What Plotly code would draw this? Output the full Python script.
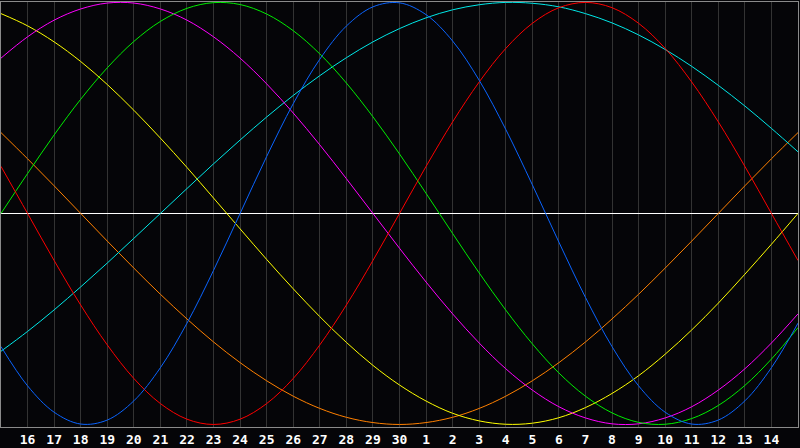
import plotly.graph_objects as go

# dias: x=0 es el dia 15, x=30 es el dia 15 del mes siguiente
dias = list(range(0, 31))
tick_pos = list(range(1, 30))
tick_txt = [str(d) for d in range(16, 31)] + [str(d) for d in range(1, 15)]
hoy = 15  # dia 30

# valores (-100 .. 100)
rojo = [22.3, 0, -22.3, -43.4, -62.3, -78.2, -90.1, -97.5, -100, -97.5, -90.1,
        -78.2, -62.3, -43.4, -22.3, 0, 22.3, 43.4, 62.3, 78.2, 90.1, 97.5, 100,
        97.5, 90.1, 78.2, 62.3, 43.4, 22.3, 0, -22.3]
azul = [-63.1, -81.7, -94.2, -99.8, -97.9, -88.8, -73.1, -52.0, -27.0, 0, 27.0,
        52.0, 73.1, 88.8, 97.9, 99.8, 94.2, 81.7, 63.1, 39.8, 13.6, -13.6, -39.8,
        -63.1, -81.7, -94.2, -99.8, -97.9, -88.8, -73.1, -52.0]
verde = [0, 18.9, 37.2, 54.1, 69.0, 81.5, 91.0, 97.2, 99.9, 99.0, 94.5, 86.6,
         75.6, 61.8, 45.8, 28.2, 9.5, -9.5, -28.2, -45.8, -61.8, -75.6, -86.6,
         -94.5, -99.0, -99.9, -97.2, -91.0, -81.5, -69.0, -54.1]
magenta = [73.6, 83.7, 91.6, 96.9, 99.7, 99.7, 96.9, 91.6, 83.7, 73.6, 61.4, 47.6,
           32.5, 16.5, 0, -16.5, -32.5, -47.6, -61.4, -73.6, -83.7, -91.6, -96.9,
           -99.7, -99.7, -96.9, -91.6, -83.7, -73.6, -61.4, -47.6]
amarillo = [94.7, 88.9, 81.3, 72.0, 61.1, 48.9, 35.7, 21.8, 7.3, -7.3, -21.8,
            -35.7, -48.9, -61.1, -72.0, -81.3, -88.9, -94.7, -98.3, -99.9, -99.4,
            -96.8, -92.0, -85.3, -76.9, -66.7, -55.2, -42.5, -28.8, -14.6, 0]
naranja = [38.3, 25.9, 13.1, 0, -13.1, -25.9, -38.3, -50.0, -60.9, -70.7, -79.3,
           -86.6, -92.4, -96.6, -99.1, -100, -99.1, -96.6, -92.4, -86.6, -79.3,
           -70.7, -60.9, -50.0, -38.3, -25.9, -13.1, 0, 13.1, 25.9, 38.3]
cian = [-65.3, -55.9, -45.7, -34.8, -23.5, -11.8, 0, 11.8, 23.5, 34.8, 45.7, 55.9,
        65.3, 73.8, 81.3, 87.6, 92.7, 96.5, 98.9, 100.0, 99.6, 97.9, 94.7, 90.3,
        84.6, 77.7, 69.7, 60.7, 50.9, 40.3, 29.2]

series = [
    (naranja, '#ff8000'),
    (cian, '#00e8e8'),
    (amarillo, '#ffff00'),
    (magenta, '#ff00ff'),
    (verde, '#00ee00'),
    (rojo, '#ff0000'),
    (azul, '#0a64ff'),
]

fig = go.Figure()

for vals, color in series:
    fig.add_trace(go.Scatter(
        x=dias, y=vals, mode='lines',
        line=dict(color=color, width=1, shape='spline', smoothing=1),
        hoverinfo='skip'
    ))

# linea de hoy
fig.add_shape(type='line', x0=hoy, x1=hoy, y0=0, y1=1, yref='paper',
              line=dict(color='white', width=1), layer='below')

fig.update_layout(
    width=800, height=448,
    margin=dict(l=1, r=1, t=1, b=20),
    paper_bgcolor='#050508',
    plot_bgcolor='#050508',
    showlegend=False,
    xaxis=dict(
        range=[0, 30],
        tickvals=tick_pos, ticktext=tick_txt,
        showgrid=True, gridcolor='#333333', gridwidth=1,
        showline=True, mirror=True, linecolor='#8a8a8a', linewidth=1,
        zeroline=False, ticks='',
        tickfont=dict(family='DejaVu Sans Mono', size=13, color='white', weight='bold'),
    ),
    yaxis=dict(
        range=[-101.2, 100.2],
        showgrid=False, showticklabels=False, ticks='',
        showline=True, mirror=True, linecolor='#8a8a8a', linewidth=1,
        zeroline=True, zerolinecolor='white', zerolinewidth=1,
    ),
)

fig.write_html("out.html", config={'displayModeBar': False},
               post_script="document.body.style.margin='0';document.body.style.background='#050508';")
